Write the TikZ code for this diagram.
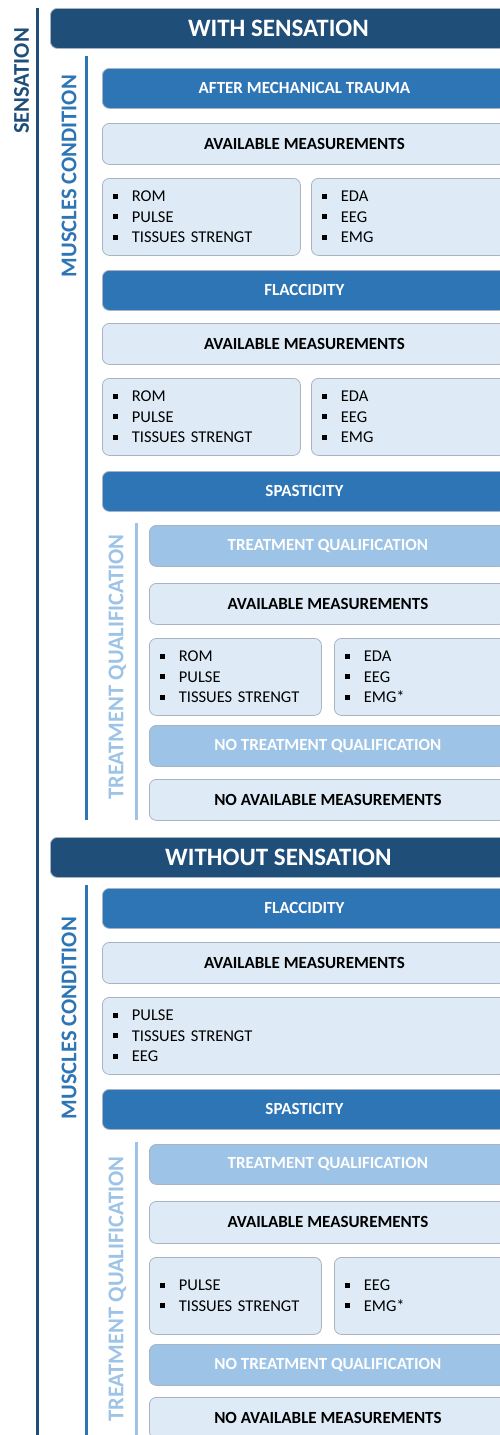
\documentclass[tikz,border=0pt]{standalone}
\usepackage{fontspec}
\setmainfont{Carlito}
\definecolor{cdark}{HTML}{1F4E79}
\definecolor{cmid}{HTML}{2E75B6}
\definecolor{clight}{HTML}{9DC3E6}
\definecolor{cpale}{HTML}{DEEBF7}
\definecolor{cborder}{HTML}{A9B4C2}
\newcommand{\lbul}{\makebox[18.5pt][l]{\rule[3pt]{5pt}{5pt}}}
\tikzset{
  box/.style={rounded corners=7pt, draw=cborder, line width=0.8pt, anchor=north west, inner sep=0pt},
  hdr/.style={box, fill=cdark, text=white, font=\bfseries\fontsize{25}{25}\selectfont},
  cat/.style={box, fill=cmid, text=white, font=\bfseries\fontsize{17}{17}\selectfont},
  tqbox/.style={box, fill=clight, text=white, font=\bfseries\fontsize{17}{17}\selectfont},
  meas/.style={box, fill=cpale, text=black, font=\bfseries\fontsize{17}{17}\selectfont},
  lst/.style={box, fill=cpale, text=black, align=left, inner xsep=11pt, font=\fontsize{16.5}{20.5}\selectfont},
  sidelbl/.style={rotate=90, inner sep=0pt, font=\bfseries\fontsize{22.5}{22.5}\selectfont},
  vline/.style={line width=3.2pt},
}
\begin{document}
\begin{tikzpicture}[x=1pt,y=-1pt]
\useasboundingbox (0,0) rectangle (500,1435);
% side labels and vertical lines
\node[sidelbl, text=cdark] (lsens) at (21.5,81) {SENSATION};
\coordinate (s1) at (37.5,8); \coordinate (s2) at (37.5,1440);
\draw[vline, draw=cdark] (s1) -- (s2);

\node[sidelbl, text=cmid] (lmc1) at (69,176) {MUSCLES CONDITION};
\coordinate (m1a) at (86.5,56); \coordinate (m1b) at (86.5,820);
\draw[vline, draw=cmid] (m1a) -- (m1b);

\node[sidelbl, text=clight] (ltq1) at (117.5,667) {TREATMENT QUALIFICATION};
\coordinate (t1a) at (136.5,523); \coordinate (t1b) at (136.5,820);
\draw[vline, draw=clight] (t1a) -- (t1b);

\node[sidelbl, text=cmid] (lmc2) at (69,1018) {MUSCLES CONDITION};
\coordinate (m2a) at (86.5,885); \coordinate (m2b) at (86.5,1440);
\draw[vline, draw=cmid] (m2a) -- (m2b);

\node[sidelbl, text=clight] (ltq2) at (117.5,1289) {TREATMENT QUALIFICATION};
\coordinate (t2a) at (136.5,1142); \coordinate (t2b) at (136.5,1440);
\draw[vline, draw=clight] (t2a) -- (t2b);

% WITH SENSATION
\node[hdr, minimum width=456pt, minimum height=40pt] (ws) at (50,8) {WITH SENSATION};
\node[cat, minimum width=404pt, minimum height=40pt] (amt) at (102,68) {AFTER MECHANICAL TRAUMA};
\node[meas, minimum width=404pt, minimum height=41pt] (am1) at (102,123) {AVAILABLE MEASUREMENTS};
\node[lst, text width=176pt, minimum height=77pt] (l1a) at (102,178) {\lbul ROM\\\lbul PULSE\\\lbul TISSUES STRENGT};
\node[lst, text width=173pt, minimum height=77pt] (l1b) at (311,178) {\lbul EDA\\\lbul EEG\\\lbul EMG};

\node[cat, minimum width=404pt, minimum height=40pt] (fl1) at (102,270) {FLACCIDITY};
\node[meas, minimum width=404pt, minimum height=41pt] (am2) at (102,323) {AVAILABLE MEASUREMENTS};
\node[lst, text width=176pt, minimum height=77pt] (l2a) at (102,378) {\lbul ROM\\\lbul PULSE\\\lbul TISSUES STRENGT};
\node[lst, text width=173pt, minimum height=77pt] (l2b) at (311,378) {\lbul EDA\\\lbul EEG\\\lbul EMG};

\node[cat, minimum width=404pt, minimum height=40pt] (sp1) at (102,471) {SPASTICITY};
\node[tqbox, minimum width=357pt, minimum height=41pt] (tq1) at (149,525) {TREATMENT QUALIFICATION};
\node[meas, minimum width=357pt, minimum height=41pt] (am3) at (149,583) {AVAILABLE MEASUREMENTS};
\node[lst, text width=150pt, minimum height=77pt] (l3a) at (149,638) {\lbul ROM\\\lbul PULSE\\\lbul TISSUES STRENGT};
\node[lst, text width=150pt, minimum height=77pt] (l3b) at (334,638) {\lbul EDA\\\lbul EEG\\\lbul EMG*};
\node[tqbox, minimum width=357pt, minimum height=41pt] (ntq1) at (149,725) {NO TREATMENT QUALIFICATION};
\node[meas, minimum width=357pt, minimum height=41pt] (nam1) at (149,779) {NO AVAILABLE MEASUREMENTS};

% WITHOUT SENSATION
\node[hdr, minimum width=456pt, minimum height=40pt] (wos) at (50,837) {WITHOUT SENSATION};
\node[cat, minimum width=404pt, minimum height=40pt] (fl2) at (102,888) {FLACCIDITY};
\node[meas, minimum width=404pt, minimum height=41pt] (am4) at (102,942) {AVAILABLE MEASUREMENTS};
\node[lst, text width=382pt, minimum height=77pt] (l4) at (102,997) {\lbul PULSE\\\lbul TISSUES STRENGT\\\lbul EEG};

\node[cat, minimum width=404pt, minimum height=40pt] (sp2) at (102,1089) {SPASTICITY};
\node[tqbox, minimum width=357pt, minimum height=40pt] (tq2) at (149,1144) {TREATMENT QUALIFICATION};
\node[meas, minimum width=357pt, minimum height=42pt] (am5) at (149,1201) {AVAILABLE MEASUREMENTS};
\node[lst, text width=150pt, minimum height=77pt] (l5a) at (149,1257) {\lbul PULSE\\\lbul TISSUES STRENGT};
\node[lst, text width=150pt, minimum height=77pt] (l5b) at (334,1257) {\lbul EEG\\\lbul EMG*};
\node[tqbox, minimum width=357pt, minimum height=41pt] (ntq2) at (149,1344) {NO TREATMENT QUALIFICATION};
\node[meas, minimum width=357pt, minimum height=41pt] (nam2) at (149,1397) {NO AVAILABLE MEASUREMENTS};
\end{tikzpicture}
\end{document}
